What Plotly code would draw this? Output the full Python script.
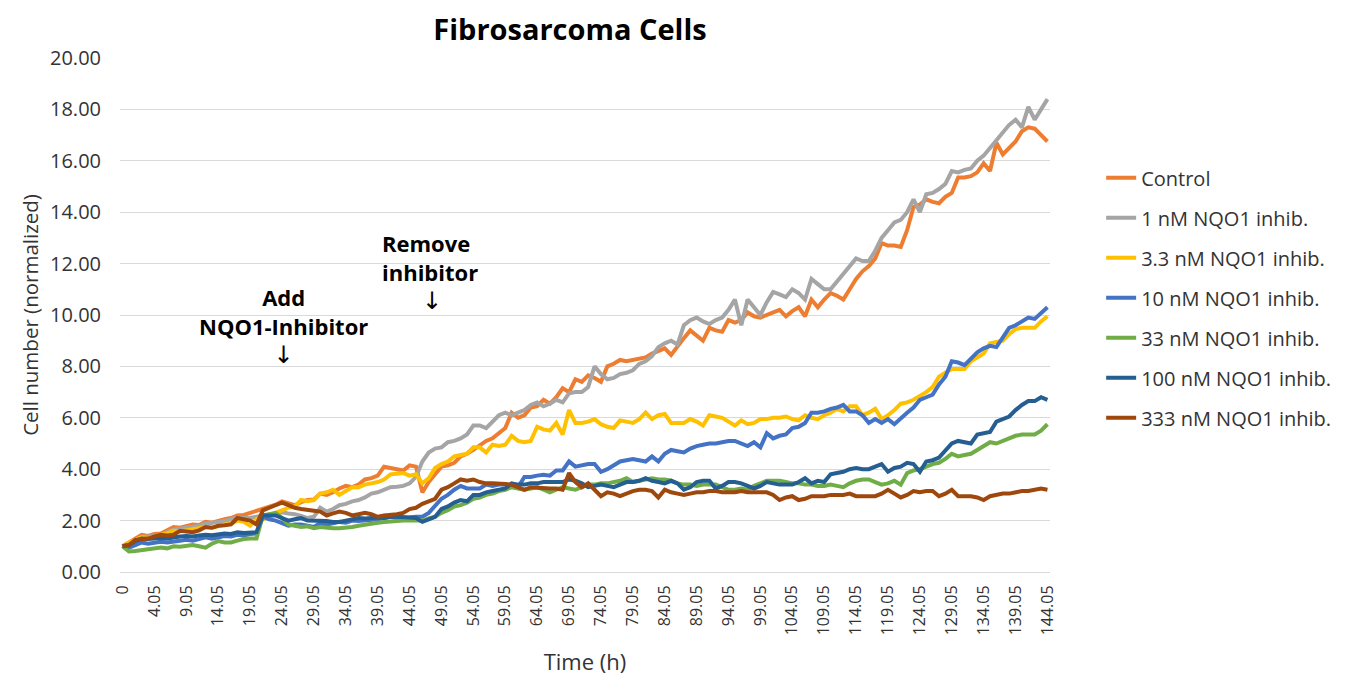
import plotly.graph_objects as go

times = ["0"] + [f"{k + 0.05:.2f}" for k in range(145)]
tick_labels = times[::5]

control = [
    1.00, 1.15, 1.30, 1.45, 1.40, 1.48, 1.50, 1.62, 1.75, 1.72,
    1.80, 1.85, 1.83, 1.95, 1.92, 2.00, 2.05, 2.10, 2.20, 2.22,
    2.30, 2.35, 2.42, 2.50, 2.62, 2.75, 2.68, 2.60, 2.72, 2.80,
    2.82, 3.05, 3.00, 3.10, 3.25, 3.35, 3.30, 3.40, 3.60, 3.65,
    3.75, 4.10, 4.05, 4.00, 3.95, 4.15, 4.10, 3.10, 3.50, 3.80,
    4.10, 4.15, 4.25, 4.50, 4.60, 4.75, 4.95, 5.10, 5.20, 5.40,
    5.60, 6.20, 6.00, 6.10, 6.40, 6.45, 6.70, 6.55, 6.80, 7.15,
    7.00, 7.50, 7.40, 7.65, 7.55, 7.40, 8.00, 8.10, 8.25, 8.20,
    8.25, 8.30, 8.35, 8.50, 8.60, 8.70, 8.45, 8.80, 9.10, 9.40,
    9.20, 9.00, 9.50, 9.40, 9.35, 9.80, 9.70, 9.80, 10.10, 9.95,
    9.90, 10.00, 10.10, 10.20, 9.95, 10.15, 10.30, 9.95, 10.60, 10.30,
    10.60, 10.85, 10.75, 10.60, 11.00, 11.40, 11.70, 11.90, 12.20, 12.80,
    12.70, 12.70, 12.65, 13.30, 14.20, 14.30, 14.50, 14.40, 14.35, 14.60,
    14.75, 15.35, 15.35, 15.40, 15.55, 15.90, 15.60, 16.70, 16.25, 16.50,
    16.75, 17.15, 17.30, 17.25, 17.00, 16.75,
]

nqo1_1nm = [
    1.00, 1.10, 1.25, 1.35, 1.38, 1.42, 1.45, 1.55, 1.65, 1.68,
    1.72, 1.78, 1.80, 1.88, 1.90, 1.95, 1.98, 2.05, 2.12, 2.10,
    2.10, 2.15, 2.20, 2.25, 2.30, 2.32, 2.28, 2.25, 2.18, 2.10,
    2.15, 2.50, 2.35, 2.45, 2.60, 2.65, 2.75, 2.80, 2.90, 3.05,
    3.10, 3.20, 3.30, 3.32, 3.35, 3.45, 3.70, 4.30, 4.65, 4.80,
    4.85, 5.05, 5.10, 5.20, 5.35, 5.70, 5.70, 5.60, 5.85, 6.10,
    6.20, 6.10, 6.20, 6.30, 6.50, 6.60, 6.45, 6.55, 6.70, 6.60,
    6.95, 7.00, 7.00, 7.20, 8.00, 7.70, 7.50, 7.55, 7.70, 7.75,
    7.85, 8.10, 8.20, 8.40, 8.75, 8.90, 9.00, 8.85, 9.60, 9.80,
    9.90, 9.75, 9.65, 9.80, 9.90, 10.20, 10.60, 9.60, 10.60, 10.30,
    10.00, 10.50, 10.90, 10.80, 10.70, 11.00, 10.85, 10.60, 11.40, 11.20,
    11.00, 11.00, 11.30, 11.60, 11.90, 12.20, 12.10, 12.10, 12.50, 13.00,
    13.30, 13.60, 13.70, 14.00, 14.50, 14.00, 14.70, 14.75, 14.90, 15.10,
    15.60, 15.55, 15.65, 15.70, 16.00, 16.20, 16.50, 16.80, 17.10, 17.40,
    17.60, 17.30, 18.10, 17.60, 18.00, 18.40,
]

nqo1_3_3nm = [
    1.00, 1.15, 1.25, 1.35, 1.32, 1.40, 1.45, 1.50, 1.60, 1.58,
    1.62, 1.65, 1.70, 1.75, 1.72, 1.80, 1.85, 1.88, 2.00, 1.95,
    1.80, 2.05, 2.05, 2.15, 2.30, 2.40, 2.50, 2.55, 2.80, 2.75,
    2.80, 3.05, 3.10, 3.20, 3.00, 3.15, 3.30, 3.30, 3.40, 3.45,
    3.50, 3.60, 3.80, 3.82, 3.85, 3.75, 3.80, 3.45, 3.65, 4.05,
    4.20, 4.30, 4.50, 4.55, 4.60, 4.85, 4.85, 4.65, 4.95, 4.90,
    4.95, 5.30, 5.10, 5.05, 5.10, 5.65, 5.55, 5.50, 5.80, 5.35,
    6.30, 5.80, 5.80, 5.85, 5.95, 5.75, 5.65, 5.60, 5.90, 5.85,
    5.80, 5.95, 6.20, 5.95, 6.10, 6.15, 5.80, 5.80, 5.80, 5.95,
    5.85, 5.70, 6.10, 6.05, 6.00, 5.85, 5.70, 5.90, 5.75, 5.80,
    5.95, 5.95, 6.00, 6.00, 6.05, 5.95, 5.90, 6.10, 6.00, 5.95,
    6.10, 6.20, 6.35, 6.25, 6.45, 6.45, 6.10, 6.20, 6.35, 5.95,
    6.10, 6.30, 6.55, 6.60, 6.70, 6.85, 7.00, 7.20, 7.60, 7.75,
    7.90, 7.90, 7.90, 8.20, 8.35, 8.50, 8.90, 8.95, 9.00, 9.25,
    9.45, 9.50, 9.50, 9.50, 9.75, 9.95,
]

nqo1_10nm = [
    1.00, 0.95, 1.05, 1.15, 1.10, 1.15, 1.18, 1.15, 1.20, 1.22,
    1.25, 1.22, 1.28, 1.35, 1.30, 1.35, 1.40, 1.38, 1.45, 1.42,
    1.48, 1.50, 2.15, 2.05, 2.00, 1.90, 1.80, 1.85, 1.85, 1.80,
    1.75, 1.90, 1.85, 1.90, 1.95, 1.92, 2.00, 1.98, 2.00, 2.00,
    2.05, 2.10, 2.15, 2.10, 2.10, 2.12, 2.15, 2.15, 2.30, 2.55,
    2.85, 3.00, 3.20, 3.35, 3.25, 3.25, 3.25, 3.40, 3.35, 3.40,
    3.40, 3.35, 3.30, 3.70, 3.70, 3.75, 3.78, 3.75, 3.95, 3.95,
    4.30, 4.10, 4.15, 4.20, 4.20, 3.90, 4.00, 4.15, 4.30, 4.35,
    4.40, 4.35, 4.30, 4.50, 4.30, 4.60, 4.75, 4.70, 4.65, 4.80,
    4.90, 4.95, 5.00, 5.00, 5.05, 5.10, 5.10, 5.00, 4.90, 5.05,
    4.85, 5.40, 5.20, 5.30, 5.35, 5.60, 5.65, 5.80, 6.20, 6.20,
    6.25, 6.35, 6.40, 6.50, 6.25, 6.25, 6.10, 5.80, 5.95, 5.80,
    5.95, 5.75, 6.00, 6.20, 6.40, 6.70, 6.80, 6.90, 7.30, 7.60,
    8.20, 8.15, 8.05, 8.30, 8.55, 8.70, 8.80, 8.75, 9.10, 9.50,
    9.60, 9.75, 9.90, 9.85, 10.10, 10.30,
]

nqo1_33nm = [
    1.00, 0.80, 0.82, 0.85, 0.88, 0.90, 0.95, 0.92, 1.00, 0.98,
    1.02, 1.05, 1.00, 0.95, 1.10, 1.20, 1.15, 1.15, 1.22, 1.28,
    1.30, 1.30, 2.20, 2.25, 2.30, 2.10, 1.85, 1.80, 1.75, 1.78,
    1.70, 1.75, 1.72, 1.70, 1.70, 1.72, 1.75, 1.80, 1.85, 1.90,
    1.92, 1.95, 1.95, 1.98, 2.00, 2.00, 2.00, 2.00, 2.08, 2.15,
    2.30, 2.40, 2.55, 2.60, 2.70, 2.85, 2.90, 3.00, 3.05, 3.15,
    3.20, 3.30, 3.25, 3.20, 3.25, 3.30, 3.20, 3.10, 3.20, 3.30,
    3.25, 3.20, 3.30, 3.40, 3.40, 3.45, 3.45, 3.50, 3.55, 3.65,
    3.50, 3.55, 3.60, 3.65, 3.60, 3.60, 3.55, 3.45, 3.40, 3.40,
    3.35, 3.40, 3.40, 3.40, 3.30, 3.20, 3.20, 3.25, 3.20, 3.35,
    3.45, 3.55, 3.55, 3.55, 3.50, 3.45, 3.45, 3.40, 3.40, 3.35,
    3.35, 3.40, 3.35, 3.30, 3.45, 3.55, 3.60, 3.60, 3.50, 3.40,
    3.45, 3.55, 3.40, 3.85, 3.95, 4.00, 4.10, 4.20, 4.25, 4.40,
    4.60, 4.50, 4.55, 4.60, 4.75, 4.90, 5.05, 5.00, 5.10, 5.20,
    5.30, 5.35, 5.35, 5.35, 5.50, 5.75,
]

nqo1_100nm = [
    1.00, 1.05, 1.20, 1.30, 1.28, 1.30, 1.32, 1.30, 1.35, 1.38,
    1.40, 1.38, 1.42, 1.45, 1.43, 1.48, 1.50, 1.48, 1.55, 1.52,
    1.55, 1.55, 2.20, 2.20, 2.20, 2.10, 2.00, 2.05, 2.10, 2.00,
    2.00, 2.00, 1.98, 1.95, 1.95, 2.00, 2.05, 2.10, 2.08, 2.10,
    2.12, 2.10, 2.15, 2.15, 2.15, 2.12, 2.10, 1.95, 2.05, 2.15,
    2.45, 2.55, 2.70, 2.80, 2.75, 3.00, 3.00, 3.10, 3.15, 3.20,
    3.25, 3.45, 3.40, 3.40, 3.45, 3.45, 3.50, 3.50, 3.50, 3.50,
    3.60, 3.55, 3.45, 3.30, 3.35, 3.40, 3.35, 3.30, 3.40, 3.50,
    3.50, 3.55, 3.65, 3.55, 3.50, 3.45, 3.55, 3.45, 3.20, 3.30,
    3.50, 3.55, 3.55, 3.25, 3.35, 3.50, 3.50, 3.45, 3.35, 3.25,
    3.35, 3.50, 3.45, 3.40, 3.40, 3.40, 3.50, 3.65, 3.45, 3.55,
    3.50, 3.80, 3.85, 3.90, 4.00, 4.05, 4.00, 4.00, 4.10, 4.20,
    3.90, 4.05, 4.10, 4.25, 4.20, 3.90, 4.30, 4.35, 4.45, 4.70,
    5.00, 5.10, 5.05, 5.00, 5.35, 5.40, 5.45, 5.85, 5.95, 6.05,
    6.30, 6.50, 6.65, 6.65, 6.80, 6.70,
]

nqo1_333nm = [
    1.00, 1.05, 1.25, 1.28, 1.30, 1.38, 1.45, 1.42, 1.45, 1.60,
    1.58, 1.55, 1.62, 1.75, 1.72, 1.80, 1.82, 1.85, 2.10, 2.05,
    2.00, 1.85, 2.40, 2.50, 2.60, 2.70, 2.60, 2.50, 2.45, 2.40,
    2.38, 2.35, 2.20, 2.28, 2.35, 2.30, 2.20, 2.25, 2.30, 2.25,
    2.15, 2.20, 2.22, 2.25, 2.30, 2.45, 2.50, 2.65, 2.75, 2.85,
    3.20, 3.30, 3.45, 3.60, 3.55, 3.60, 3.50, 3.45, 3.45, 3.45,
    3.42, 3.40, 3.30, 3.20, 3.30, 3.28, 3.25, 3.25, 3.25, 3.20,
    3.85, 3.50, 3.30, 3.45, 3.20, 2.95, 3.10, 3.05, 2.95, 3.05,
    3.15, 3.20, 3.20, 3.15, 2.90, 3.20, 3.10, 3.05, 3.00, 3.05,
    3.10, 3.10, 3.15, 3.15, 3.10, 3.10, 3.10, 3.15, 3.10, 3.10,
    3.10, 3.10, 3.00, 2.80, 2.90, 2.95, 2.80, 2.85, 2.95, 2.95,
    2.95, 3.00, 3.00, 3.00, 3.05, 2.95, 2.95, 2.95, 2.95, 3.05,
    3.20, 3.05, 2.90, 3.00, 3.15, 3.10, 3.15, 3.15, 2.95, 3.05,
    3.20, 2.95, 2.95, 2.95, 2.90, 2.80, 2.95, 3.00, 3.05, 3.05,
    3.10, 3.15, 3.15, 3.20, 3.25, 3.20,
]

series_names = [
    "Control", "1 nM NQO1 inhib.", "3.3 nM NQO1 inhib.", "10 nM NQO1 inhib.",
    "33 nM NQO1 inhib.", "100 nM NQO1 inhib.", "333 nM NQO1 inhib.",
]
series_values = [control, nqo1_1nm, nqo1_3_3nm, nqo1_10nm, nqo1_33nm, nqo1_100nm, nqo1_333nm]
series_colors = ["#ED7D31", "#A5A5A5", "#FFC000", "#4472C4", "#70AD47", "#255E91", "#9E480E"]

FONT = "Open Sans, Liberation Sans, sans-serif"
TXT = "#333333"

fig = go.Figure()
for name, vals, col in zip(series_names, series_values, series_colors):
    fig.add_trace(go.Scatter(
        x=times, y=vals, mode="lines", name=name,
        line=dict(color=col, width=4),
        legendgroup=name,
    ))

ARROW = "<span style='font-family:DejaVu Sans;font-size:24px;font-weight:normal'>\u2193</span>"

fig.update_layout(
    width=1353, height=682,
    paper_bgcolor="white", plot_bgcolor="white",
    margin=dict(l=112, r=311, t=50, b=118),
    font=dict(family=FONT, color=TXT),
    title=dict(text="<b>Fibrosarcoma Cells</b>", x=562 / 1353, xanchor="center",
               y=0.968, yanchor="middle",
               font=dict(size=29, color="black", family=FONT)),
    showlegend=True,
    legend=dict(x=1.055, xanchor="left", y=0.805, yanchor="top",
                font=dict(size=20, color=TXT, family=FONT),
                tracegroupgap=11, bgcolor="rgba(0,0,0,0)"),
    xaxis=dict(
        type="category", range=[-0.4, 145.4],
        tickmode="array", tickvals=tick_labels, ticktext=tick_labels,
        tickangle=-90, tickfont=dict(size=16, color=TXT),
        ticklabelstandoff=6,
        showgrid=False, showline=True, linecolor="#d9d9d9", linewidth=1,
        ticks="",
        title=dict(text="Time (h)", font=dict(size=22, color=TXT), standoff=20),
    ),
    yaxis=dict(
        range=[0, 20], dtick=2, tickformat=".2f",
        tickfont=dict(size=20, color=TXT),
        ticklabelstandoff=18,
        showgrid=True, gridcolor="#d9d9d9", gridwidth=1,
        zeroline=False, showline=False, ticks="",
        title=dict(text="Cell number (normalized)", font=dict(size=20.5, color=TXT), standoff=5),
    ),
)

fig.add_annotation(
    x=25.2, y=9.6, xref="x", yref="y",
    text="<b>Add</b><br><b>NQO1-Inhibitor</b><br>" + ARROW,
    showarrow=False, align="center", xanchor="center", yanchor="middle",
    font=dict(size=22, color="black", family=FONT),
)
fig.add_annotation(
    x=40.4, y=11.7, xref="x", yref="y",
    text="<b>Remove</b><br><b>inhibitor</b><br>" + "&nbsp;" * 7 + ARROW,
    showarrow=False, align="left", xanchor="left", yanchor="middle",
    font=dict(size=22, color="black", family=FONT),
)

fig.write_html("out.html")
